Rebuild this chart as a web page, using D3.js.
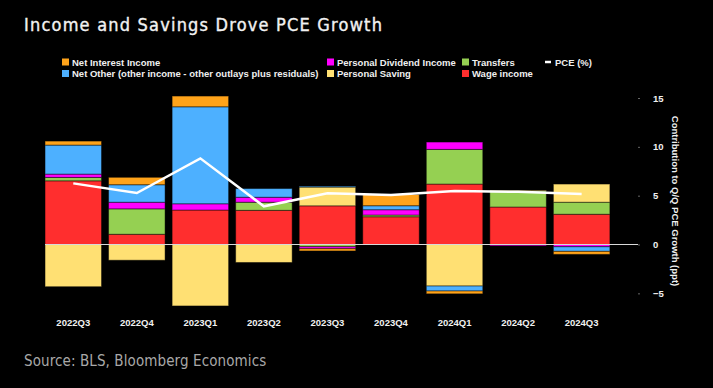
<!DOCTYPE html>
<html>
<head>
<meta charset="utf-8">
<script src="https://cdn.jsdelivr.net/npm/d3@7"></script>
<style>
  body { margin: 0; background: #000; }
  svg { display: block; }
</style>
</head>
<body>
<div id="vis"></div>
<script>
const FRAME_WIDTH = 713;
const FRAME_HEIGHT = 388;

// values (ppt contributions)
const CATEGORIES = ["2022Q3", "2022Q4", "2023Q1", "2023Q2", "2023Q3", "2023Q4", "2024Q1", "2024Q2", "2024Q3"];
const WAGE = [6.52, 1.05, 3.53, 3.50, 3.96, 2.84, 6.19, 3.84, 3.10];
const TRANSFERS = [0.35, 2.60, 0.00, 0.83, -0.23, 0.18, 3.55, 1.67, 1.23];
const DIVIDEND = [0.34, 0.68, 0.64, 0.51, -0.20, 0.54, 0.75, -0.13, -0.23];
const SAVING = [-4.32, -1.61, -6.29, -1.84, 1.92, 0.00, -4.25, 0.07, 1.86];
const NET_OTHER = [2.97, 1.79, 9.93, 0.89, 0.10, 0.41, -0.51, 0.00, -0.47];
const NET_INTEREST = [0.41, 0.76, 1.10, 0.00, -0.23, 1.15, -0.29, 0.00, -0.31];
const PCE = [6.26, 5.27, 8.82, 3.91, 5.24, 5.07, 5.48, 5.40, 5.17];
const Y_TICKS = [-5, 0, 5, 10, 15];

// stacking order, bottom up
const KEYS = ["wage", "transfers", "dividend", "saving", "netOther", "netInterest"];
const COLORS = {
  netInterest: "#ffa31a",
  netOther: "#4db0ff",
  dividend: "#ff00ff",
  saving: "#ffe073",
  transfers: "#95d052",
  wage: "#ff2e2e"
};

// legend: label, key, column x, row
const LEGEND = [
  {label: "Net Interest Income", key: "netInterest", x: 62, row: 0},
  {label: "Personal Dividend Income", key: "dividend", x: 327, row: 0},
  {label: "Transfers", key: "transfers", x: 462, row: 0},
  {label: "PCE (%)", key: "pce", x: 545, row: 0},
  {label: "Net Other (other income - other outlays plus residuals)", key: "netOther", x: 62, row: 1},
  {label: "Personal Saving", key: "saving", x: 327, row: 1},
  {label: "Wage income", key: "wage", x: 462, row: 1}
];

const table = CATEGORIES.map((c, i) => ({
  cat: c,
  wage: WAGE[i],
  transfers: TRANSFERS[i],
  dividend: DIVIDEND[i],
  saving: SAVING[i],
  netOther: NET_OTHER[i],
  netInterest: NET_INTEREST[i],
  pce: PCE[i]
}));

const FRAME = d3.select("#vis")
  .append("svg")
    .attr("width", FRAME_WIDTH)
    .attr("height", FRAME_HEIGHT)
    .style("font-family", "'Liberation Sans', Arial, sans-serif");

FRAME.append("rect")
  .attr("width", FRAME_WIDTH)
  .attr("height", FRAME_HEIGHT)
  .attr("fill", "#000");

const X_SCALE = d3.scaleBand()
  .domain(CATEGORIES)
  .range([41.5, 613.4])
  .paddingInner(0.111)
  .paddingOuter(0.0555);

const Y_SCALE = d3.scaleLinear()
  .domain([-5, 15])
  .range([293.35, 98]);

const series = d3.stack()
  .keys(KEYS)
  .offset(d3.stackOffsetDiverging)(table);

// bars
FRAME.append("g")
  .selectAll("g")
  .data(series)
  .enter()
  .append("g")
    .attr("fill", (d) => COLORS[d.key])
  .selectAll("rect")
  .data((d) => d.filter((s) => s[0] !== s[1])) // skip empty segments
  .enter()
  .append("rect")
    .attr("x", (d) => X_SCALE(d.data.cat))
    .attr("width", X_SCALE.bandwidth())
    .attr("y", (d) => Y_SCALE(Math.max(d[0], d[1])))
    .attr("height", (d) => Math.abs(Y_SCALE(d[0]) - Y_SCALE(d[1])))
    .attr("stroke", "rgba(0,0,0,0.45)")
    .attr("stroke-width", 1);

// zero line
FRAME.append("line")
  .attr("x1", 45)
  .attr("x2", 638)
  .attr("y1", Y_SCALE(0))
  .attr("y2", Y_SCALE(0))
  .attr("stroke", "#d9d9d9")
  .attr("stroke-width", 1);

// PCE line
const line = d3.line()
  .x((d) => X_SCALE(d.cat) + X_SCALE.bandwidth() / 2)
  .y((d) => Y_SCALE(d.pce));

FRAME.append("path")
  .datum(table)
  .attr("d", line)
  .attr("fill", "none")
  .attr("stroke", "#fff")
  .attr("stroke-width", 2.5);

// right axis
const yAxis = FRAME.append("g")
  .attr("transform", "translate(638,0)")
  .call(d3.axisRight(Y_SCALE).tickValues(Y_TICKS).tickSize(2).tickPadding(13));
yAxis.select(".domain").remove();
yAxis.selectAll(".tick line").attr("stroke", "#666");
yAxis.selectAll(".tick text")
  .attr("fill", "#f0f0f0")
  .attr("font-size", "9.5px")
  .attr("font-weight", "bold")
  .attr("font-family", "'Liberation Sans', Arial, sans-serif");

FRAME.append("text")
  .attr("transform", "translate(672," + 201 + ") rotate(90)")
  .attr("text-anchor", "middle")
  .attr("fill", "#f0f0f0")
  .attr("font-size", "9.5px")
  .attr("font-weight", "bold")
  .text("Contribution to Q/Q PCE Growth (ppt)");

// category labels
const xAxis = FRAME.append("g")
  .attr("transform", "translate(0,315)")
  .call(d3.axisBottom(X_SCALE).tickSize(0).tickPadding(4));
xAxis.select(".domain").remove();
xAxis.selectAll(".tick text")
  .attr("fill", "#f0f0f0")
  .attr("font-size", "9.5px")
  .attr("font-weight", "bold")
  .attr("font-family", "'Liberation Sans', Arial, sans-serif");

// title and source
FRAME.append("text")
  .attr("x", 24)
  .attr("y", 31)
  .attr("fill", "#f2f2f2")
  .attr("stroke", "#f2f2f2")
  .attr("stroke-width", 0.35)
  .attr("font-size", "18px")
  .attr("letter-spacing", "1.2px")
  .attr("font-family", "'DejaVu Sans Condensed', 'DejaVu Sans', sans-serif")
  .text("Income and Savings Drove PCE Growth");

FRAME.append("text")
  .attr("x", 24)
  .attr("y", 366)
  .attr("fill", "#a8a8a8")
  .attr("font-size", "15px")
  .attr("letter-spacing", "0.1px")
  .attr("font-family", "'DejaVu Sans Condensed', 'DejaVu Sans', sans-serif")
  .text("Source: BLS, Bloomberg Economics");

// legend
const leg = FRAME.append("g")
  .selectAll("g")
  .data(LEGEND)
  .enter()
  .append("g")
    .attr("transform", (d) => "translate(" + d.x + "," + (62 + d.row * 11.5) + ")");

leg.filter((d) => d.key !== "pce")
  .append("rect")
    .attr("x", 0)
    .attr("y", -3.5)
    .attr("width", 7)
    .attr("height", 7)
    .attr("fill", (d) => COLORS[d.key]);

leg.filter((d) => d.key === "pce")
  .append("line")
    .attr("x1", 0)
    .attr("x2", 6)
    .attr("y1", 0)
    .attr("y2", 0)
    .attr("stroke", "#fff")
    .attr("stroke-width", 2.5);

leg.append("text")
  .attr("x", 10)
  .attr("y", 3.5)
  .attr("fill", "#f0f0f0")
  .attr("font-size", "9.5px")
  .attr("font-weight", "bold")
  .text((d) => d.label);
</script>
</body>
</html>
